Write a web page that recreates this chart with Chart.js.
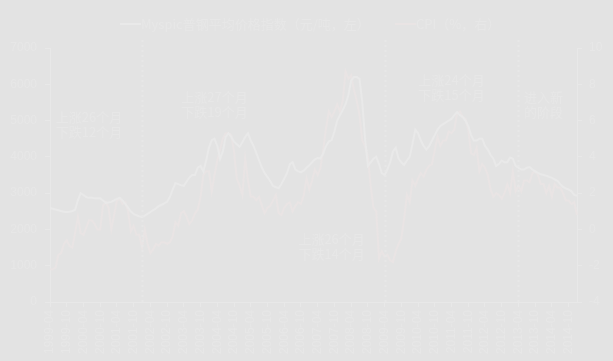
<!DOCTYPE html>
<html>
<head>
<meta charset="utf-8">
<script src="https://cdn.jsdelivr.net/npm/chart.js@4.4.1/dist/chart.umd.min.js"></script>
<style>
  html, body { margin: 0; padding: 0; background: #e3e3e3; }
  #wrap { width: 613px; height: 361px; }
</style>
</head>
<body>
<div id="wrap"><canvas id="chart" width="613" height="361"></canvas></div>
<script>
// Monthly categories, 1999-04 .. 2015-01
const months = [];
for (let y = 1999, m = 4; y < 2015 || (y === 2015 && m <= 1); m++) {
    if (m > 12) { m = 1; y++; }
    if (y === 2015 && m > 1) break;
    months.push(y + '-' + String(m).padStart(2, '0'));
}
const labelMonths = ['04', '10'];

// Myspic steel price index (yuan/ton, left axis)
const steelIndex = [
    2590, 2570, 2550, 2530, 2510, 2490, 2480, 2490, 2510, 2540, 2800, 3000,
    2950, 2890, 2870, 2870, 2860, 2860, 2860, 2800, 2730, 2740, 2760, 2800,
    2840, 2870, 2800, 2700, 2600, 2490, 2430, 2390, 2360, 2340, 2380, 2430,
    2480, 2530, 2580, 2640, 2680, 2720, 2760, 2900, 3100, 3280, 3250, 3220,
    3200, 3320, 3430, 3500, 3500, 3700, 3750, 3600, 3900, 4250, 4460, 4500,
    4300, 3950, 4150, 4550, 4650, 4550, 4420, 4350, 4280, 4400, 4550, 4650,
    4450, 4300, 4100, 3900, 3700, 3550, 3440, 3330, 3200, 3160, 3140, 3250,
    3400, 3550, 3800, 3850, 3650, 3600, 3580, 3620, 3700, 3770, 3850, 3930,
    3970, 3960, 4100, 4300, 4420, 4460, 4700, 5000, 5150, 5290, 5450, 5700,
    6100, 6200, 6200, 6150, 5500, 4500, 3750, 3850, 3950, 4000, 3800, 3550,
    3500, 3650, 3850, 4150, 4250, 3950, 3850, 3780, 3900, 4000, 4350, 4750,
    4650, 4450, 4300, 4200, 4300, 4450, 4600, 4750, 4850, 4900, 4950, 5000,
    5050, 5150, 5230, 5150, 5100, 5000, 4850, 4600, 4450, 4450, 4500, 4500,
    4300, 4200, 4050, 3950, 3750, 3800, 3900, 3850, 3850, 3980, 3950, 3750,
    3700, 3650, 3650, 3700, 3720, 3650, 3600, 3560, 3520, 3500, 3480, 3450,
    3420, 3380, 3340, 3250, 3170, 3130, 3100, 3050, 2950, 2930
];

// CPI year-on-year (%, right axis)
const cpi = [
    -2.2, -2.2, -2.1, -1.4, -1.3, -0.8, -0.6, -0.9, -1.0,
    -0.2, 0.7, -0.2, -0.3, 0.1, 0.5, 0.5, 0.3, 0.0, 0.0, 1.3, 1.5,
    1.2, 0.0, 0.8, 1.6, 1.7, 1.4, 1.5, 1.0, -0.1, 0.2, -0.3, -0.3,
    -1.0, 0.0, -0.8, -1.3, -1.1, -0.8, -0.9, -0.7, -0.7, -0.8, -0.7, -0.4,
    0.4, 0.2, 0.9, 1.0, 0.7, 0.3, 0.5, 0.9, 1.1, 1.8, 3.0, 3.2,
    3.2, 2.1, 3.0, 3.8, 4.4, 5.0, 5.3, 5.3, 5.2, 4.3, 2.8, 2.4,
    1.9, 3.9, 2.7, 1.8, 1.8, 1.6, 1.8, 1.3, 0.9, 1.2, 1.3, 1.6,
    1.9, 0.9, 0.8, 1.2, 1.4, 1.5, 1.0, 1.3, 1.5, 1.4, 1.9, 2.8,
    2.2, 2.7, 3.3, 3.0, 3.4, 4.4, 5.6, 6.5, 6.2, 6.5, 6.9, 6.5,
    7.1, 8.7, 8.3, 8.5, 7.7, 7.1, 6.3, 4.9, 4.6, 4.0, 2.4, 1.2,
    1.0, -1.6, -1.2, -1.5, -1.4, -1.7, -1.8, -1.2, -0.8, -0.5, 0.6, 1.9,
    1.5, 2.7, 2.4, 2.8, 3.1, 2.9, 3.3, 3.5, 3.6, 4.4, 5.1, 4.6,
    4.9, 4.9, 5.4, 5.3, 5.5, 6.4, 6.5, 6.2, 6.1, 5.5, 4.2, 4.1,
    4.5, 3.2, 3.6, 3.4, 3.0, 2.2, 1.8, 2.0, 1.9, 1.7, 2.0, 2.5,
    2.0, 3.2, 2.1, 2.4, 2.1, 2.7, 2.7, 2.6, 3.1, 3.2, 3.0, 2.5,
    2.5, 2.0, 2.4, 1.8, 2.5, 2.3, 2.3, 2.0, 1.6, 1.6, 1.4, 1.5,
    0.8
];

const leftTicks = [0, 1000, 2000, 3000, 4000, 5000, 6000, 7000];
const rightTicks = [-4, -2, 0, 2, 4, 6, 8, 10];

// cycle dividers (dotted verticals)
const dividers = ['2002-01', '2009-04', '2013-04'];

// text notes: anchored to a month and a left-axis value
const notes = [
    { at: '2000-06', value: 4900, lines: ['上涨26个月', '下跌12个月'] },
    { at: '2004-03', value: 5450, lines: ['上涨27个月', '下跌19个月'] },
    { at: '2007-09', value: 1530, lines: ['上涨26个月', '下跌14个月'] },
    { at: '2011-04', value: 5900, lines: ['上涨24个月', '下跌15个月'] },
    { at: '2014-01', value: 5430, lines: ['进入新', '的阶段'] }
];

const seriesNames = ['Myspic普钢平均价格指数（元/吨，左）', 'CPI（%，右）'];
const seriesColors = ['#e9e9e9', '#e9e4e4'];

const TEXT = '#e7e7e7';
const AXIS = '#e8e8e8';
const CJK = '"Noto Sans CJK SC", "Liberation Sans", sans-serif';

const overlay = {
    id: 'overlay',
    afterDatasetsDraw(chart) {
        const { ctx, chartArea, scales } = chart;
        ctx.save();
        // dotted dividers
        ctx.strokeStyle = '#e7e7e7';
        ctx.lineWidth = 2;
        ctx.setLineDash([2, 3]);
        dividers.forEach(d => {
            const x = Math.round(scales.x.getPixelForValue(months.indexOf(d))) + 0.5;
            ctx.beginPath();
            ctx.moveTo(x, chartArea.top - 8);
            ctx.lineTo(x, chartArea.bottom);
            ctx.stroke();
        });
        ctx.setLineDash([]);

        // notes
        ctx.fillStyle = TEXT;
        ctx.font = '13px ' + CJK;
        ctx.textAlign = 'center';
        ctx.textBaseline = 'middle';
        notes.forEach(n => {
            const x = scales.x.getPixelForValue(months.indexOf(n.at));
            const y = scales.y.getPixelForValue(n.value);
            ctx.fillText(n.lines[0], x, y - 7.5);
            ctx.fillText(n.lines[1], x, y + 7.5);
        });

        // legend
        const legendX = [120, 395];
        ctx.textAlign = 'left';
        seriesNames.forEach((name, i) => {
            ctx.strokeStyle = seriesColors[i];
            ctx.lineWidth = 2;
            ctx.beginPath();
            ctx.moveTo(legendX[i], 24);
            ctx.lineTo(legendX[i] + 21, 24);
            ctx.stroke();
            ctx.fillText(name, legendX[i] + 21, 24);
        });
        ctx.restore();
    }
};

const ctx = document.getElementById('chart').getContext('2d');
new Chart(ctx, {
    type: 'line',
    data: {
        labels: months,
        datasets: [{
            label: seriesNames[0],
            data: steelIndex,
            yAxisID: 'y',
            borderColor: seriesColors[0],
            borderWidth: 2,
            pointRadius: 0,
            tension: 0
        }, {
            label: seriesNames[1],
            data: cpi,
            yAxisID: 'y1',
            borderColor: seriesColors[1],
            borderWidth: 2,
            pointRadius: 0,
            tension: 0
        }]
    },
    options: {
        responsive: false,
        animation: false,
        devicePixelRatio: 1,
        layout: { padding: { top: 48, left: 0, right: 0, bottom: 0 } },
        plugins: { legend: { display: false }, tooltip: { enabled: false } },
        scales: {
            x: {
                border: { color: AXIS },
                grid: { drawOnChartArea: false, tickLength: 5, color: AXIS },
                ticks: {
                    autoSkip: false,
                    maxRotation: 90,
                    minRotation: 90,
                    padding: 3,
                    color: TEXT,
                    font: { family: 'Liberation Sans', size: 12 },
                    callback: (v, i) => labelMonths.includes(months[i].slice(5)) ? months[i] : null
                },
                afterFit: s => { s.height = 59; }
            },
            y: {
                position: 'left',
                min: leftTicks[0],
                max: leftTicks[leftTicks.length - 1],
                border: { color: AXIS },
                grid: { drawOnChartArea: false, tickLength: 5, color: AXIS },
                ticks: {
                    stepSize: leftTicks[1] - leftTicks[0],
                    padding: 8,
                    color: TEXT,
                    font: { family: 'Liberation Sans', size: 12 },
                    callback: v => String(v)
                },
                afterFit: s => { s.width = 50; }
            },
            y1: {
                position: 'right',
                min: rightTicks[0],
                max: rightTicks[rightTicks.length - 1],
                border: { color: AXIS },
                grid: { drawOnChartArea: false, tickLength: 5, color: AXIS },
                ticks: {
                    stepSize: rightTicks[1] - rightTicks[0],
                    padding: 7,
                    color: TEXT,
                    font: { family: 'Liberation Sans', size: 12 },
                    callback: v => String(v)
                },
                afterFit: s => { s.width = 36; }
            }
        }
    },
    plugins: [overlay]
});
</script>
</body>
</html>
